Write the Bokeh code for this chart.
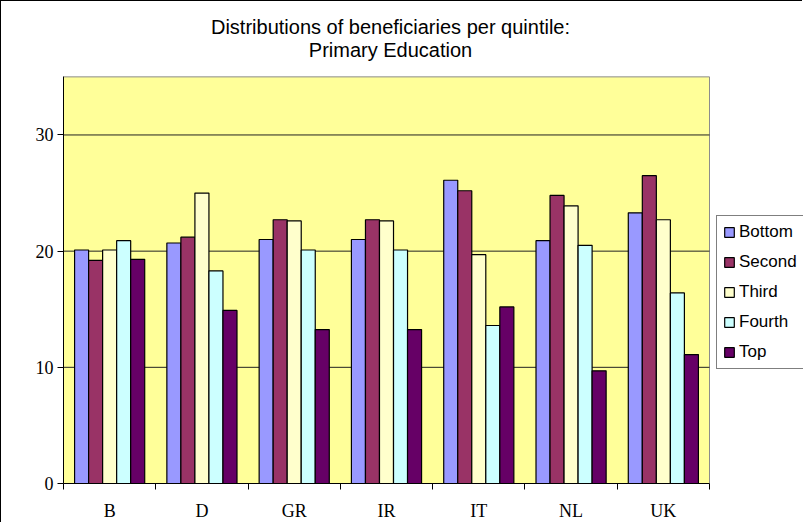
import numpy as np
from bokeh.plotting import figure
from bokeh.models import (ColumnDataSource, Range1d, FixedTicker, Legend, LegendItem, Label)
from bokeh.embed import file_html
from bokeh.resources import INLINE

countries = ["B", "D", "GR", "IR", "IT", "NL", "UK"]
series_names = ["Bottom", "Second", "Third", "Fourth", "Top"]
bottom = [20.1, 20.7, 21.0, 21.0, 26.1, 20.9, 23.3]
second = [19.2, 21.2, 22.7, 22.7, 25.2, 24.8, 26.5]
third = [20.1, 25.0, 22.6, 22.6, 19.7, 23.9, 22.7]
fourth = [20.9, 18.3, 20.1, 20.1, 13.6, 20.5, 16.4]
top = [19.3, 14.9, 13.25, 13.25, 15.2, 9.7, 11.1]
series_values = [bottom, second, third, fourth, top]
colors = ["#9999FF", "#993366", "#FFFFCC", "#CCFFFF", "#660066"]
y_ticks = [0, 10, 20, 30]
y_max = 35
title_lines = ["Distributions of beneficiaries per quintile:", "Primary Education"]

# layout (pixels, relative to the picture)
W, H = 802, 522
PLOT_L, PLOT_R, PLOT_T, PLOT_B = 63, 709, 77, 487
FRAME_T, FRAME_R = 1, 1 + W
n = len(countries)
x_end = n * (FRAME_R - PLOT_L) / (PLOT_R - PLOT_L)
y_end = y_max * (PLOT_B - FRAME_T) / (PLOT_B - PLOT_T)
py = (PLOT_B - PLOT_T) / y_max

p = figure(width=W, height=H, output_backend="svg", toolbar_location=None,
           title_location=None,
           x_range=Range1d(0, x_end), y_range=Range1d(0, y_end),
           min_border_left=PLOT_L - 1, min_border_right=0, min_border_top=0,
           min_border_bottom=H + 1 - PLOT_B)
p.styles = {"border-left": "1px solid black", "border-top": "1px solid black"}
p.background_fill_color = "white"
p.border_fill_color = "white"
p.outline_line_color = None

# plot area
p.quad(left=[0], right=[n], bottom=[0], top=[y_max], fill_color="#FFFF99",
       line_color="#8C8C8C", line_width=1)
gl = [t for t in y_ticks if t > 0]
p.segment(x0=[0] * len(gl), x1=[n] * len(gl), y0=gl, y1=gl, line_color="#222222", line_width=1)

centers = np.arange(n) + 0.5
bw = 0.152
renderers = []
for k, (name, vals, col) in enumerate(zip(series_names, series_values, colors)):
    src = ColumnDataSource(dict(x=centers + (k - 2) * bw, top=vals))
    r = p.vbar(x="x", top="top", width=bw, source=src, fill_color=col,
               line_color="black", line_width=1.2)
    renderers.append((name, r))

# x axis: labels at centers, tick marks at boundaries (minor ticks)
xa = p.xaxis[0]
xa.bounds = (0, n)
xa.ticker = FixedTicker(ticks=list(centers), minor_ticks=list(np.arange(n + 1)))
xa.major_label_overrides = {float(c): s for c, s in zip(centers, countries)}
xa.major_tick_out = 0
xa.major_tick_in = 0
xa.minor_tick_out = 6
xa.minor_tick_in = 0
xa.minor_tick_line_color = "black"
xa.axis_line_color = "black"
xa.major_label_standoff = 11
xa.major_label_text_font = "Liberation Serif"
xa.major_label_text_font_size = "18px"
xa.major_label_text_color = "black"

ya = p.yaxis[0]
ya.bounds = (0, y_max)
ya.ticker = FixedTicker(ticks=y_ticks, minor_ticks=[])
ya.major_tick_out = 6
ya.major_tick_in = 0
ya.major_tick_line_color = "black"
ya.axis_line_color = "black"
ya.major_label_standoff = 4
ya.major_label_text_font = "Liberation Serif"
ya.major_label_text_font_size = "18px"
ya.major_label_text_color = "black"

p.xgrid.visible = False
p.ygrid.visible = False

legend = Legend(items=[LegendItem(label=s, renderers=[r]) for s, r in renderers],
                location=(653, 114), orientation="vertical",
                glyph_width=12, glyph_height=12, label_height=20, label_standoff=4,
                spacing=10, padding=6, margin=0,
                label_text_font="Liberation Sans", label_text_font_size="17px",
                label_text_color="black",
                border_line_color="black", border_line_width=1,
                background_fill_color="white", background_fill_alpha=1.0)
p.add_layout(legend, "center")

for line, ypx in zip(title_lines, [27, 50]):
    p.add_layout(Label(x=n / 2, y=y_max + (PLOT_T - ypx) / py, text=line,
                       x_offset=4, text_align="center", text_baseline="middle",
                       text_font="Liberation Sans", text_font_size="20px",
                       text_color="black"))

open("out.html", "w").write(file_html(p, INLINE))
